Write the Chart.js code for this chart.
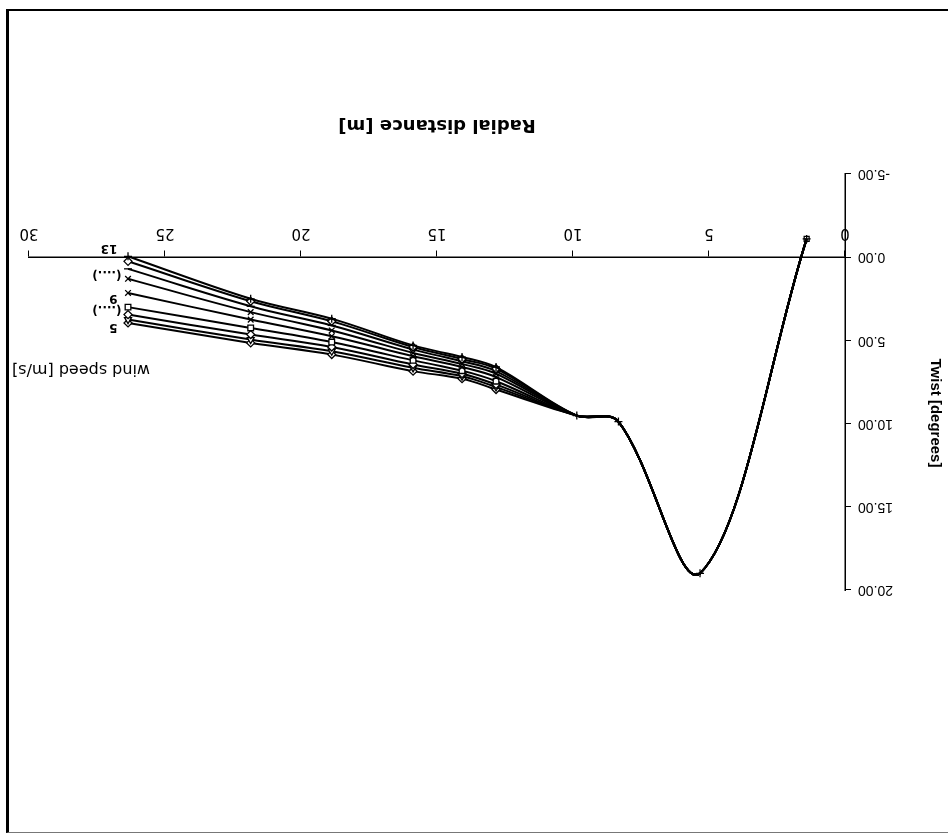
<!DOCTYPE html>
<html lang="en">
<head>
<meta charset="UTF-8">
<title>Twist distribution</title>
<script src="https://cdn.jsdelivr.net/npm/chart.js@4.4.1/dist/chart.umd.min.js"></script>
<style>
  html, body { margin: 0; padding: 0; background: #fff; }
  /* the printed sheet is upside down */
  #sheet { position: relative; width: 948px; height: 835px; transform: rotate(180deg); overflow: hidden; background: #fff; }
  #frame { position: absolute; left: -4px; top: 2px; width: 943px; height: 821px;
           border-top: 1px solid #777; border-right: 3px solid #000; border-bottom: 2px solid #000; }
  #twist { position: absolute; left: 0; top: 0; }
</style>
</head>
<body>
<div id="sheet">
  <div id="frame"></div>
  <canvas id="twist" width="948" height="835"></canvas>
</div>

<script>
// blade root section, same for every wind speed
const rootRadius = [1.41, 5.33, 8.33, 9.86];
const rootTwist = [-1.1, 19.0, 9.88, 9.52];

// outer stations
const tipRadius = [12.83, 14.08, 15.88, 18.87, 21.85, 26.36];
const windSpeeds = [13, 12, 11, 10, 9, 8, 7, 6, 5];
const twist13 = [6.6, 6.0, 5.3, 3.7, 2.5, -0.05];
const twist12 = [6.7, 6.12, 5.4, 3.85, 2.65, 0.25];
const twist11 = [6.85, 6.25, 5.55, 4.1, 2.95, 0.7];
const twist10 = [7.0, 6.42, 5.75, 4.4, 3.3, 1.3];
const twist9 = [7.2, 6.6, 5.95, 4.75, 3.75, 2.15];
const twist8 = [7.45, 6.82, 6.2, 5.1, 4.25, 3.0];
const twist7 = [7.65, 7.0, 6.45, 5.4, 4.65, 3.45];
const twist6 = [7.8, 7.15, 6.65, 5.65, 4.95, 3.75];
const twist5 = [7.95, 7.3, 6.85, 5.85, 5.15, 3.95];

const xTicks = [0, 5, 10, 15, 20, 25, 30];
const yTicks = [-5, 0, 5, 10, 15, 20];

const tipTwist = [twist13, twist12, twist11, twist10, twist9, twist8, twist7, twist6, twist5];
const markers = ['cross', 'rectRot', 'line', 'crossRot', 'crossRot', 'rect', 'rectRot', 'triangle', 'rectRot'];

const datasets = windSpeeds.map((ws, k) => ({
    label: ws + ' m/s',
    data: rootRadius.map((r, i) => ({ x: r, y: rootTwist[i] }))
        .concat(tipRadius.map((r, i) => ({ x: r, y: tipTwist[k][i] }))),
    borderColor: '#000',
    borderWidth: 2,
    tension: 0.35,
    pointStyle: markers[k],
    pointBorderColor: '#000',
    pointBackgroundColor: '#fff',
    pointBorderWidth: 1.3,
    pointRadius: ctx => {
        const i = ctx.dataIndex;
        if (i >= rootRadius.length) return 4;
        if (ctx.datasetIndex === 0) return 4;
        if (ctx.datasetIndex === 5 && i === 0) return 3.5;
        return 0;
    }
}));

// wind speed key next to the blade tip, plus the vertical axis title
const notes = {
    id: 'notes',
    afterDatasetsDraw(chart) {
        const { ctx, chartArea, scales: { x, y } } = chart;
        ctx.save();
        ctx.fillStyle = '#000';
        ctx.textBaseline = 'middle';
        ctx.textAlign = 'left';

        ctx.font = 'bold 12px "DejaVu Sans"';
        ctx.fillText(String(windSpeeds[0]), x.getPixelForValue(26.75), y.getPixelForValue(-0.55));
        ctx.fillText(String(windSpeeds[4]), x.getPixelForValue(26.75), y.getPixelForValue(2.45));
        ctx.fillText(String(windSpeeds[8]), x.getPixelForValue(26.75), y.getPixelForValue(4.2));
        ctx.fillText('(....)', x.getPixelForValue(26.6), y.getPixelForValue(1.0));
        ctx.fillText('(....)', x.getPixelForValue(26.6), y.getPixelForValue(3.15));

        ctx.font = '16px "DejaVu Sans"';
        ctx.fillText('wind speed [m/s]', x.getPixelForValue(25.55), y.getPixelForValue(6.7));

        ctx.translate(y.left + 13, (chartArea.top + chartArea.bottom) / 2 - 31);
        ctx.rotate(-Math.PI / 2);
        ctx.textAlign = 'center';
        ctx.font = 'bold 15px "Liberation Sans"';
        ctx.fillText('Twist [degrees]', 0, 0);
        ctx.restore();
    }
};

new Chart(document.getElementById('twist'), {
    type: 'line',
    data: { datasets },
    plugins: [notes],
    options: {
        responsive: false,
        animation: false,
        layout: { padding: { left: 0, right: 29, top: 245, bottom: 174 } },
        plugins: { legend: { display: false }, tooltip: { enabled: false } },
        scales: {
            x: {
                type: 'linear',
                position: { y: 0 },
                min: xTicks[0],
                max: xTicks[xTicks.length - 1],
                afterBuildTicks: s => { s.ticks = xTicks.map(v => ({ value: v })); },
                ticks: { color: '#000', padding: 9, maxRotation: 0,
                         font: { family: 'DejaVu Sans', size: 15 } },
                grid: { drawOnChartArea: false, drawTicks: true, tickLength: 6, color: '#000' },
                border: { color: '#000', width: 1.5 },
                title: { display: true, text: 'Radial distance [m]', color: '#000',
                         font: { family: 'DejaVu Sans', weight: 'bold', size: 18 },
                         padding: { top: 80, bottom: 0 } }
            },
            y: {
                min: yTicks[0],
                max: yTicks[yTicks.length - 1],
                afterBuildTicks: s => { s.ticks = yTicks.map(v => ({ value: v })); },
                afterFit: s => { s.width = 103; },
                ticks: { color: '#000', padding: 7, callback: v => v.toFixed(2),
                         font: { family: '"Liberation Sans"', size: 14 } },
                grid: { drawOnChartArea: false, drawTicks: true, tickLength: 6, color: '#000' },
                border: { color: '#000', width: 1.5 }
            }
        }
    }
});
</script>
</body>
</html>
